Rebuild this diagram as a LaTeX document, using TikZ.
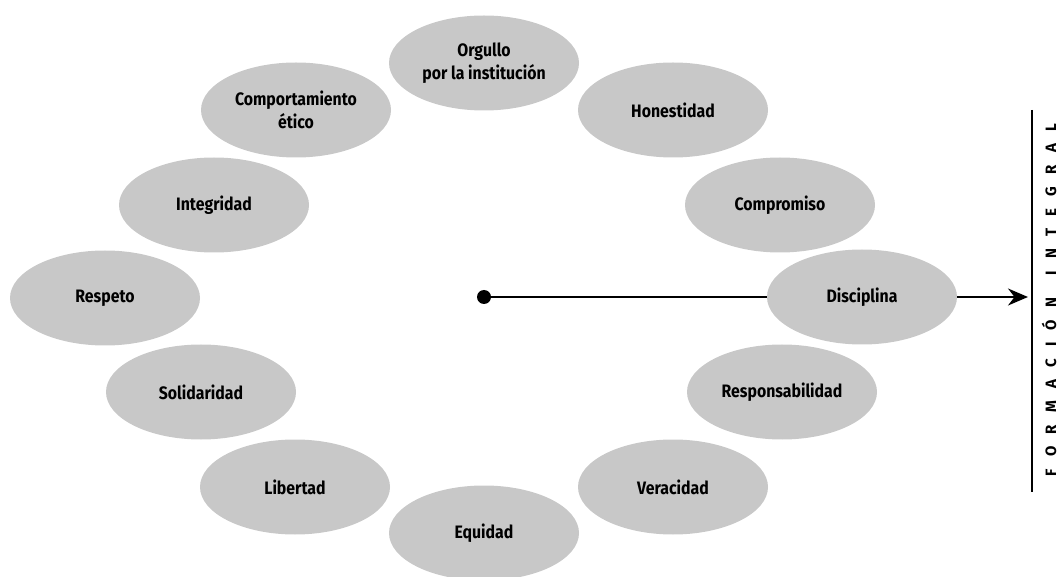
\documentclass[tikz,border=0pt]{standalone}
\usepackage{fontspec}
\setmainfont{Fira Sans}[FakeStretch=0.88]
\newfontfamily\spacedfont{Fira Sans}[LetterSpace=82]
\usetikzlibrary{shapes.geometric,arrows.meta}
\definecolor{ovalgray}{RGB}{200,200,200}
\tikzset{
  oval/.style={ellipse, fill=ovalgray, minimum width=190pt, minimum height=95pt, inner sep=0pt, align=center, font=\fontsize{18}{23}\selectfont\bfseries},
  conn/.style={line width=1.7pt, black}
}
\begin{document}
\begin{tikzpicture}[x=1pt,y=-1pt]
\useasboundingbox (0,0) rectangle (1061,577);
\node[oval] (orgullo) at (484,63) {Orgullo\\por la institución};
\node[oval] (honestidad) at (673,110) {Honestidad};
\node[oval] (compromiso) at (780,205) {Compromiso};
\node[oval] (disciplina) at (862,297) {Disciplina};
\node[oval] (responsabilidad) at (782,392) {Responsabilidad};
\node[oval] (veracidad) at (673,487) {Veracidad};
\node[oval] (equidad) at (484,533) {Equidad};
\node[oval] (libertad) at (295,487) {Libertad};
\node[oval] (solidaridad) at (201,392) {Solidaridad};
\node[oval] (respeto) at (105,298) {Respeto};
\node[oval] (integridad) at (214,205) {Integridad};
\node[oval] (etico) at (296,110) {Comportamiento\\ético};
\node[circle, fill=black, minimum size=14pt, inner sep=0pt] (dot) at (484,297) {};
\coordinate (bartop) at (1032,110);
\coordinate (barbot) at (1032,492);
\coordinate (tip) at (1028,297);
\draw[conn] (dot.center) -- (disciplina.west);
\draw[conn, -{Stealth[length=20pt,width=17pt]}] (disciplina.east) -- (tip);
\draw[line width=1.4pt] (bartop) -- (barbot);
\node[rotate=90, font=\fontsize{15}{15}\selectfont\spacedfont\bfseries] (label) at (1049,300) {FORMACIÓN\hspace{22pt}INTEGRAL};
\end{tikzpicture}
\end{document}
